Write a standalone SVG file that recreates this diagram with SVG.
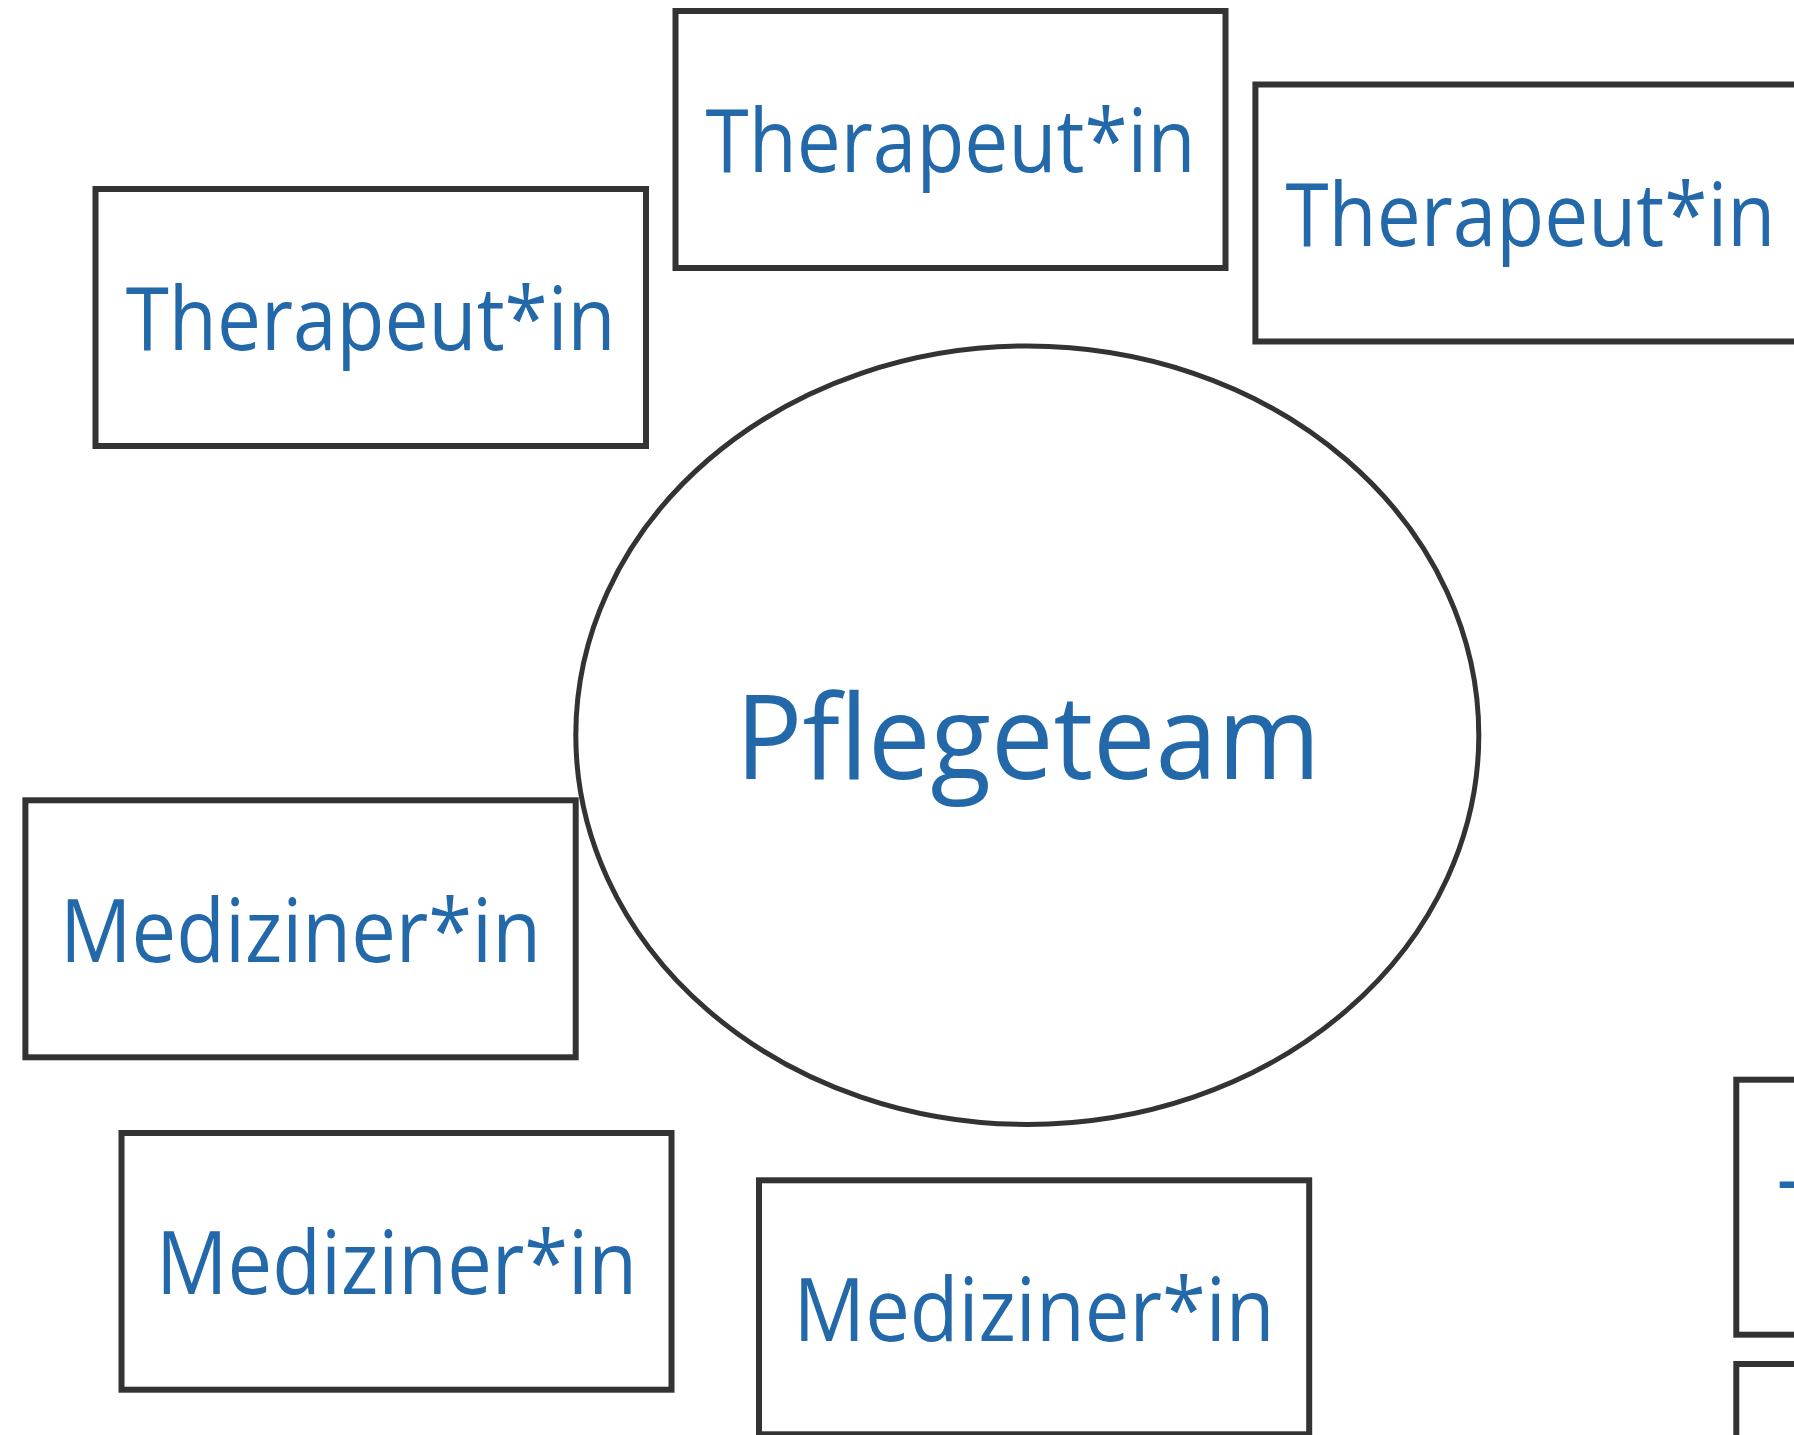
<svg xmlns="http://www.w3.org/2000/svg" width="1794" height="1435" viewBox="0 0 1794 1435">
<style>
.box{fill:#ffffff;stroke:#333333;stroke-width:6}
.ell{fill:#ffffff;stroke:#333333;stroke-width:5}
.lbl{font-family:"Open Sans","Noto Sans",sans-serif;font-size:88px;fill:#2369a9;text-anchor:middle}
.big{font-family:"Open Sans","Noto Sans",sans-serif;font-size:118px;fill:#2369a9;text-anchor:middle}
</style>
<rect width="1794" height="1435" fill="#ffffff"/>
<g id="connectors"></g>
<g id="pflegeteam">
<ellipse class="ell" cx="1027.3" cy="735.2" rx="451.5" ry="389.2"/>
<text class="big" x="1028" y="779" textLength="585" lengthAdjust="spacingAndGlyphs">Pflegeteam</text>
</g>
<g id="therapeut1">
<rect class="box" x="675.5" y="11" width="550" height="257"/>
<text class="lbl" x="950.5" y="172" textLength="490" lengthAdjust="spacingAndGlyphs">Therapeut*in</text>
</g>
<g id="therapeut2">
<rect class="box" x="95.5" y="189" width="550.5" height="257"/>
<text class="lbl" x="370.7" y="350" textLength="490" lengthAdjust="spacingAndGlyphs">Therapeut*in</text>
</g>
<g id="therapeut3">
<rect class="box" x="1255.4" y="84.5" width="550" height="257"/>
<text class="lbl" x="1530.4" y="245.5" textLength="490" lengthAdjust="spacingAndGlyphs">Therapeut*in</text>
</g>
<g id="therapeut4">
<rect class="box" x="1736.3" y="1079.7" width="550" height="255"/>
<text class="lbl" x="2024" y="1244" textLength="490" lengthAdjust="spacingAndGlyphs">Therapeut*in</text>
</g>
<g id="node-bottom-right">
<rect class="box" x="1736.3" y="1364" width="550" height="257"/>
</g>
<g id="mediziner1">
<rect class="box" x="25.4" y="800.3" width="550.3" height="257"/>
<text class="lbl" x="300.5" y="961.5" textLength="481" lengthAdjust="spacingAndGlyphs">Mediziner*in</text>
</g>
<g id="mediziner2">
<rect class="box" x="121.5" y="1133" width="550" height="256.7"/>
<text class="lbl" x="396.5" y="1293.5" textLength="481" lengthAdjust="spacingAndGlyphs">Mediziner*in</text>
</g>
<g id="mediziner3">
<rect class="box" x="759" y="1180.3" width="550.2" height="254"/>
<text class="lbl" x="1034.1" y="1341" textLength="481" lengthAdjust="spacingAndGlyphs">Mediziner*in</text>
</g>
</svg>
